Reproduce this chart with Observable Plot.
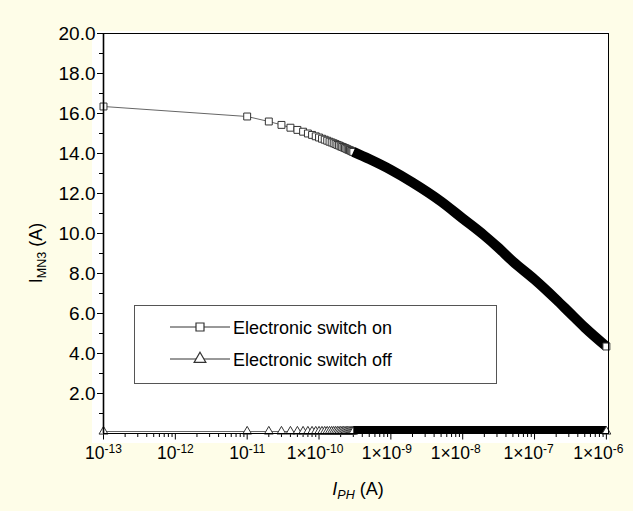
<!DOCTYPE html>
<html><head><meta charset="utf-8">
<script src="https://cdn.jsdelivr.net/npm/d3@7"></script>
<script src="https://cdn.jsdelivr.net/npm/@observablehq/plot@0.6"></script>
<style>
html,body{margin:0;padding:0;background:#fefde8;}
#chart{width:633px;height:511px;overflow:hidden;}
</style></head><body><div id="chart"></div>
<script>
// ---------- data ----------
const seriesNames = ["Electronic switch on", "Electronic switch off"];

// sparse (individually visible) markers
const sparseX = [1e-13,
  1e-11, 2e-11, 3e-11, 4e-11, 5e-11, 6e-11, 7e-11, 8e-11, 9e-11, 1e-10,
  1.1e-10, 1.2e-10, 1.3e-10, 1.4e-10, 1.5e-10, 1.6e-10, 1.7e-10, 1.8e-10, 1.9e-10, 2e-10,
  2.1e-10, 2.2e-10, 2.3e-10, 2.4e-10, 2.5e-10, 2.6e-10, 2.7e-10, 2.8e-10, 2.9e-10, 3e-10];
const onSparseY = [16.35,
  15.85, 15.60, 15.43, 15.29, 15.18, 15.09, 15.00, 14.93, 14.86, 14.80,
  14.74, 14.69, 14.64, 14.59, 14.55, 14.51, 14.47, 14.43, 14.40, 14.36,
  14.33, 14.30, 14.27, 14.24, 14.21, 14.18, 14.16, 14.13, 14.10, 14.08];
const offSparseY = [0.1,
  0.1, 0.1, 0.1, 0.1, 0.1, 0.1, 0.1, 0.1, 0.1, 0.1,
  0.1, 0.1, 0.1, 0.1, 0.1, 0.1, 0.1, 0.1, 0.1, 0.1,
  0.1, 0.1, 0.1, 0.1, 0.1, 0.1, 0.1, 0.1, 0.1, 0.1];

// dense region (markers merge into a solid band)
const bandX = [3e-10, 5e-10, 1e-9, 2e-9, 5e-9, 1e-8, 2e-8, 3e-8, 5e-8, 1e-7, 2e-7, 3e-7, 5e-7, 1e-6];
const onBandY = [14.08, 13.72, 13.18, 12.55, 11.60, 10.75, 9.90, 9.35, 8.60, 7.70, 6.70, 6.08, 5.30, 4.35];
const offBandY = [0.1, 0.1, 0.1, 0.1, 0.1, 0.1, 0.1, 0.1, 0.1, 0.1, 0.1, 0.1, 0.1, 0.1];

// axes
const xTicks = [1e-13, 1e-12, 1e-11, 1e-10, 1e-9, 1e-8, 1e-7, 1e-6];
const xTickLabels = ["10^-13", "10^-12", "10^-11", "1×10^-10", "1×10^-9", "1×10^-8", "1×10^-7", "1×10^-6"];
const yTicks = [2, 4, 6, 8, 10, 12, 14, 16, 18, 20];
const yTickLabels = ["2.0", "4.0", "6.0", "8.0", "10.0", "12.0", "14.0", "16.0", "18.0", "20.0"];
const yMinorTicks = [1, 3, 5, 7, 9, 11, 13, 15, 17, 19];
const xMinorTicks = [];
for (let e = -13; e < -6; e++) for (let m = 2; m <= 9; m++) xMinorTicks.push(+(m + "e" + e));

// ---------- build tables ----------
const onSparse = sparseX.map((x, i) => ({x, y: onSparseY[i]}));
const offSparse = sparseX.map((x, i) => ({x, y: offSparseY[i]}));
const onBand = bandX.map((x, i) => ({x, y: onBandY[i]}));
const offBand = bandX.map((x, i) => ({x, y: offBandY[i]}));
const onAll = onSparse.concat(onBand.slice(1));
const offAll = offSparse.concat(offBand.slice(1));
const onEnd = onBand.slice(-1);
const offEnd = offBand.slice(-1);

const FONT = "'Liberation Sans', Arial, sans-serif";

const chart = Plot.plot({
  width: 633,
  height: 511,
  marginLeft: 103,
  marginRight: 25,
  marginTop: 33,
  marginBottom: 78,
  style: {fontFamily: FONT, fontSize: "17.5px", background: "transparent", color: "black", overflow: "visible"},
  x: {type: "log", domain: [1e-13, 1.07e-6], axis: null},
  y: {domain: [0, 20], axis: null},
  marks: [
    Plot.axisY(yMinorTicks, {tickSize: 4, tickFormat: () => "", strokeWidth: 1, label: null}),
    Plot.axisY(yTicks, {tickSize: 6, tickPadding: 2, strokeWidth: 1, label: null, tickFormat: d => yTickLabels[yTicks.indexOf(d)]}),
    Plot.axisX(xMinorTicks, {tickSize: 4, tickFormat: () => "", strokeWidth: 1, label: null}),
    Plot.axisX(xTicks, {tickSize: 6.5, tickPadding: 7, strokeWidth: 1, label: null, tickFormat: d => xTickLabels[xTicks.indexOf(d)]}),
    // connecting lines
    Plot.line(offAll, {x: "x", y: "y", stroke: "#666", strokeWidth: 1}),
    Plot.line(onAll, {x: "x", y: "y", stroke: "#666", strokeWidth: 1}),
    // sparse markers
    Plot.dot(offSparse, {x: "x", y: "y", symbol: "triangle", r: 3.3, fill: "white", stroke: "#333", strokeWidth: 1}),
    Plot.dot(onSparse, {x: "x", y: "y", symbol: "square", r: 3.9, fill: "white", stroke: "#333", strokeWidth: 1}),
    // dense regions
    Plot.line(offBand, {x: "x", y: "y", stroke: "black", strokeWidth: 8, dy: -1.5, strokeLinecap: "butt"}),
    Plot.line(onBand, {x: "x", y: "y", stroke: "black", strokeWidth: 10, curve: "monotone-x", strokeLinecap: "butt"}),
    Plot.dot(offEnd, {x: "x", y: "y", symbol: "triangle", r: 3.3, fill: "white", stroke: "#333", strokeWidth: 1}),
    Plot.dot(onEnd, {x: "x", y: "y", symbol: "square", r: 3.9, fill: "white", stroke: "#333", strokeWidth: 1}),
    Plot.frame({stroke: "black", strokeWidth: 1}),
    Plot.ruleX([xTicks[0]], {stroke: "black", strokeWidth: 1.6})
  ]
});

document.getElementById("chart").appendChild(chart);
const svg = d3.select(chart);

// white plotting panel behind everything
svg.insert("rect", ":first-child")
  .attr("x", 92).attr("y", 31).attr("width", 517).attr("height", 412)
  .attr("fill", "white");

// tick label styling; superscripts on x tick labels
const xShift = {"1×10^-10": -4, "1×10^-9": -4, "1×10^-8": -7, "1×10^-7": -6, "1×10^-6": -8};
svg.selectAll("text").each(function () {
  const t = d3.select(this);
  const s = this.textContent;
  if (yTickLabels.includes(s)) t.style("font-size", "19px");
  if (s.includes("^")) {
    const [base, exp] = s.split("^");
    t.text(null);
    t.style("font-size", "17.5px");
    if (xShift[s]) t.attr("dx", xShift[s]);
    t.append("tspan").text(base);
    t.append("tspan").attr("dy", "-0.55em").style("font-size", "12px").text(exp);
  }
});

// y axis title
const yt = svg.append("text")
  .attr("transform", "translate(42,253) rotate(-90)")
  .attr("text-anchor", "middle")
  .attr("font-family", FONT).style("font-size", "18px").attr("fill", "black");
yt.append("tspan").text("I");
yt.append("tspan").attr("dy", 4).style("font-size", "12.5px").text("MN3");
yt.append("tspan").attr("dy", -4).text(" (A)");

// x axis title
const xt = svg.append("text")
  .attr("x", 358).attr("y", 495)
  .attr("text-anchor", "middle")
  .attr("font-family", FONT).style("font-size", "18px").attr("fill", "black");
xt.append("tspan").attr("font-style", "italic").text("I");
xt.append("tspan").attr("font-style", "italic").attr("dy", 4).style("font-size", "12.5px").text("PH");
xt.append("tspan").attr("dy", -4).text(" (A)");

// legend
const lg = svg.append("g").attr("font-family", FONT).style("font-size", "18px").attr("text-anchor", "start");
lg.append("rect").attr("x", 134.5).attr("y", 305.5).attr("width", 362).attr("height", 78)
  .attr("fill", "white").attr("stroke", "#555").attr("stroke-width", 1);
const legendSymbols = [d3.symbol(d3.symbolSquare, 64), d3.symbol(d3.symbolTriangle, 60)];
seriesNames.forEach((name, i) => {
  const cy = 327 + i * 32;
  lg.append("line").attr("x1", 170).attr("x2", 230).attr("y1", cy).attr("y2", cy)
    .attr("stroke", "#333").attr("stroke-width", 1);
  lg.append("path").attr("d", legendSymbols[i]()).attr("transform", `translate(200,${cy})`)
    .attr("fill", "white").attr("stroke", "#333").attr("stroke-width", 1.2);
  lg.append("text").attr("x", 233).attr("y", cy + 6.5).attr("fill", "black").attr("text-anchor", "start").text(name);
});
</script></body></html>
